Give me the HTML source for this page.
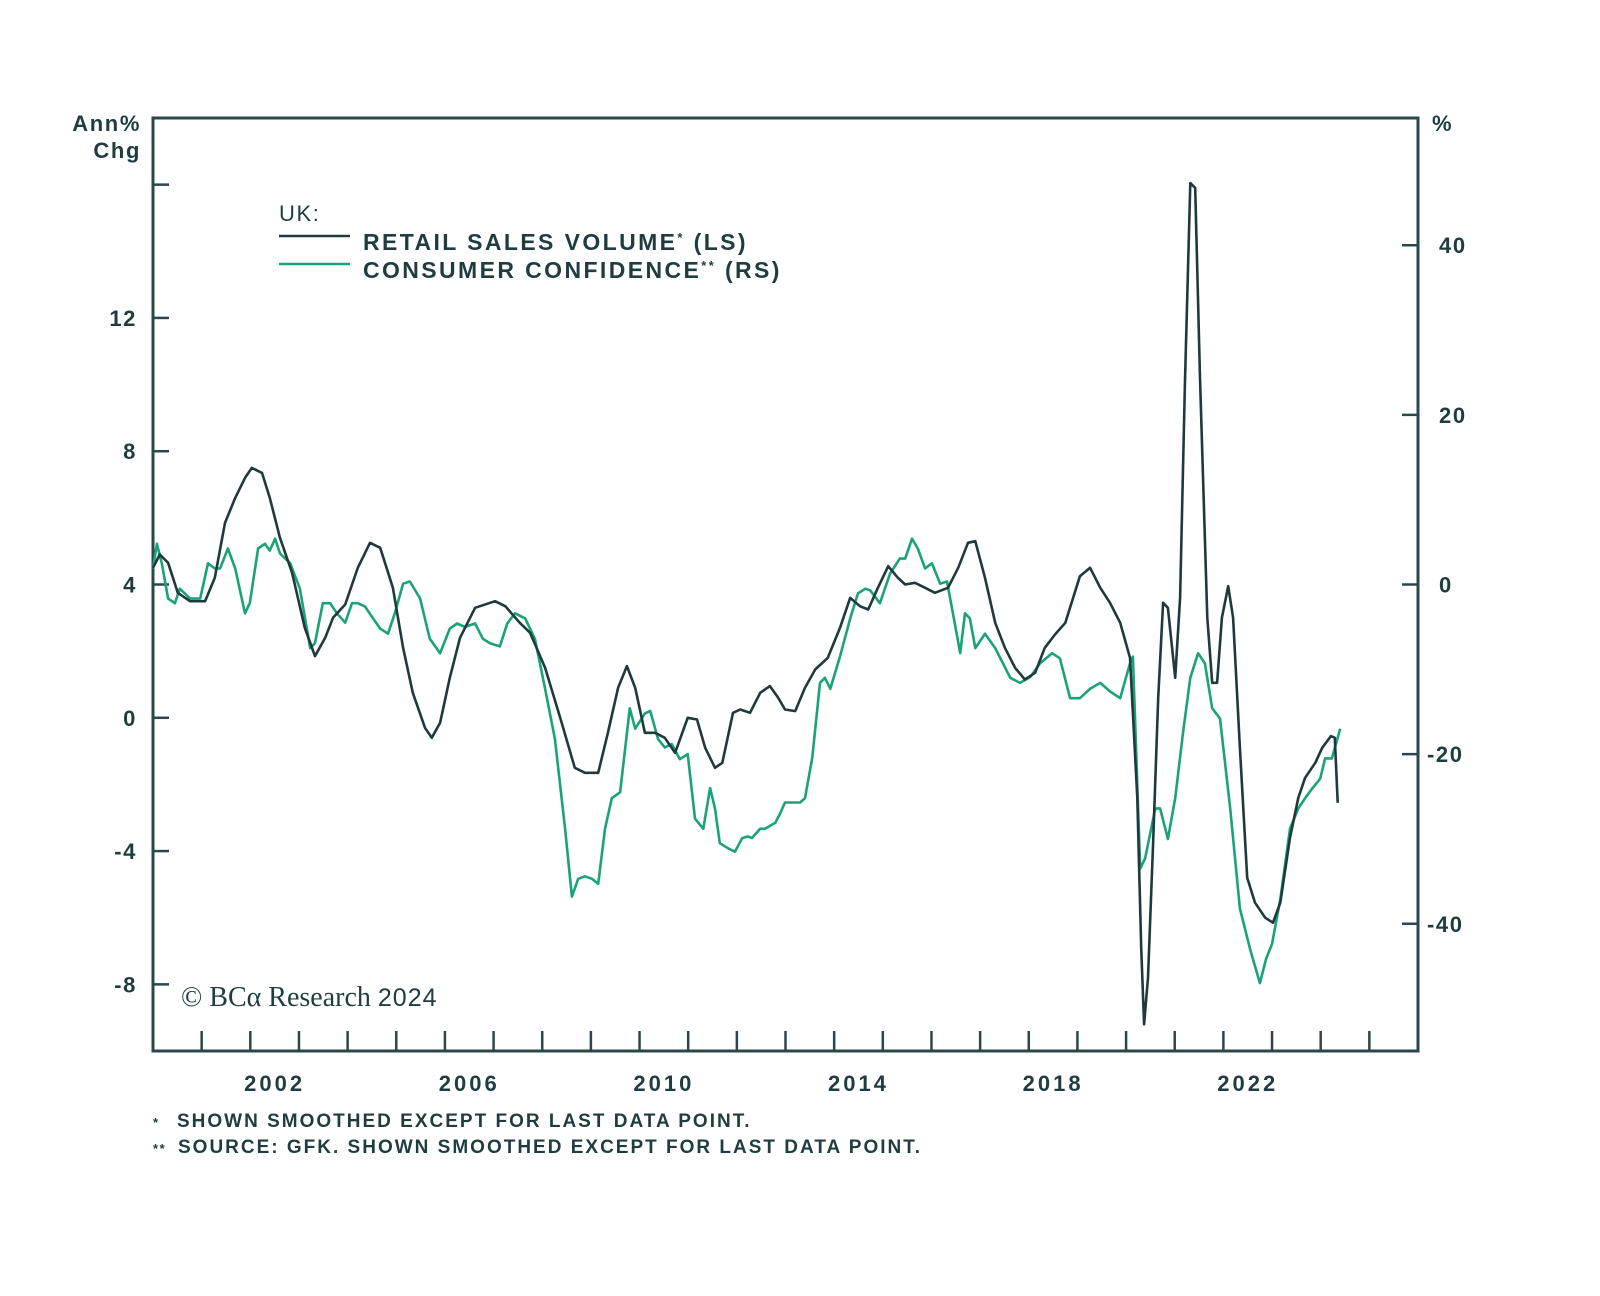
<!DOCTYPE html>
<html><head><meta charset="utf-8"><style>
html,body{margin:0;padding:0;background:#fff;}
svg{display:block;}
text{font-family:"Liberation Sans",sans-serif;font-weight:bold;fill:#1f3d40;letter-spacing:1.6px;}
</style></head><body>
<svg id="chart" width="1600" height="1296" viewBox="0 0 1600 1296" xmlns="http://www.w3.org/2000/svg">
<rect x="0" y="0" width="1600" height="1296" fill="#fff"/>
<g id="grid"></g>
<g id="series"></g>
<text x="141" y="131" font-size="22" text-anchor="end">Ann%</text>
<text x="141" y="158" font-size="22" text-anchor="end">Chg</text>
<text x="1432" y="131" font-size="22">%</text>
<g>
<text x="279" y="221" font-size="22" style="font-weight:normal">UK:</text>
<line x1="279" y1="236" x2="350" y2="236" stroke="#1e3a3d" stroke-width="2.5"/>
<text x="363" y="250" font-size="23" style="letter-spacing:2.4px">RETAIL SALES VOLUME<tspan font-size="13" dy="-8">*</tspan><tspan dy="8"> (LS)</tspan></text>
<line x1="279" y1="264" x2="350" y2="264" stroke="#1aa37a" stroke-width="2.5"/>
<text x="363" y="278" font-size="23" style="letter-spacing:2.4px">CONSUMER CONFIDENCE<tspan font-size="13" dy="-8">**</tspan><tspan dy="8"> (RS)</tspan></text>
</g>
<text x="181" y="1006" font-size="28" style="font-family:'Liberation Serif',serif;font-weight:normal;letter-spacing:0px">© BCα Research <tspan font-size="25" style="font-family:'Liberation Sans',sans-serif;letter-spacing:1px">2024</tspan></text>
<text x="153" y="1127" font-size="13">*</text>
<text x="177" y="1127" font-size="19" style="letter-spacing:2px">SHOWN SMOOTHED EXCEPT FOR LAST DATA POINT.</text>
<text x="153" y="1153" font-size="13">**</text>
<text x="178" y="1153" font-size="19" style="letter-spacing:2px">SOURCE: GFK. SHOWN SMOOTHED EXCEPT FOR LAST DATA POINT.</text>
</svg>
<script>
const retailYears=[0,0.14,0.31,0.51,0.76,1.07,1.27,1.48,1.69,1.89,2.03,2.24,2.40,2.61,2.86,3.12,3.33,3.54,3.70,3.95,4.21,4.46,4.67,4.93,5.14,5.34,5.59,5.73,5.90,6.10,6.31,6.62,7.03,7.24,7.54,7.75,8.06,8.37,8.67,8.88,9.15,9.35,9.56,9.74,9.91,10.11,10.32,10.52,10.73,10.99,11.18,11.35,11.55,11.70,11.92,12.07,12.27,12.48,12.68,12.85,12.99,13.20,13.40,13.61,13.87,14.12,14.33,14.53,14.70,14.90,15.11,15.31,15.46,15.66,15.87,16.07,16.34,16.55,16.75,16.90,17.10,17.31,17.51,17.72,17.92,18.13,18.33,18.54,18.75,19.05,19.26,19.47,19.67,19.88,20.08,20.23,20.31,20.37,20.45,20.56,20.66,20.76,20.86,21.01,21.11,21.21,21.32,21.42,21.52,21.67,21.77,21.87,21.97,22.10,22.20,22.34,22.49,22.65,22.86,23.02,23.17,23.37,23.54,23.68,23.89,24.03,24.21,24.29,24.35];
const retailValues=[4.5,4.9,4.65,3.75,3.5,3.5,4.2,5.85,6.6,7.2,7.5,7.35,6.6,5.4,4.35,2.7,1.85,2.4,3.0,3.4,4.5,5.25,5.1,3.9,2.1,0.75,-0.3,-0.6,-0.15,1.2,2.4,3.3,3.5,3.35,2.85,2.55,1.5,0.0,-1.5,-1.65,-1.65,-0.45,0.9,1.55,0.9,-0.45,-0.45,-0.6,-1.05,0.0,-0.05,-0.9,-1.5,-1.35,0.15,0.25,0.15,0.75,0.95,0.6,0.25,0.2,0.9,1.45,1.8,2.7,3.6,3.35,3.25,3.9,4.55,4.2,4.0,4.05,3.9,3.75,3.9,4.5,5.25,5.3,4.2,2.85,2.1,1.5,1.15,1.35,2.1,2.5,2.85,4.25,4.5,3.9,3.45,2.85,1.8,-2.4,-6.9,-9.2,-7.8,-3.6,0.6,3.45,3.3,1.2,3.6,10.0,16.05,15.9,10.2,3.0,1.05,1.05,3.0,3.95,3.0,-0.9,-4.8,-5.55,-6.0,-6.15,-5.55,-3.6,-2.4,-1.8,-1.35,-0.9,-0.55,-0.6,-2.55];
const confYears=[0,0.08,0.18,0.31,0.45,0.55,0.76,0.97,1.13,1.27,1.38,1.54,1.69,1.89,1.99,2.16,2.30,2.40,2.51,2.61,2.82,3.02,3.23,3.33,3.49,3.64,3.78,3.95,4.09,4.21,4.36,4.50,4.67,4.83,4.97,5.14,5.28,5.49,5.69,5.90,6.10,6.25,6.41,6.62,6.78,6.93,7.13,7.28,7.44,7.65,7.85,8.06,8.26,8.47,8.61,8.74,8.88,9.02,9.15,9.29,9.43,9.60,9.80,9.91,10.11,10.22,10.38,10.52,10.66,10.83,10.99,11.14,11.31,11.45,11.55,11.65,11.82,11.96,12.11,12.23,12.31,12.48,12.58,12.79,12.89,12.99,13.09,13.30,13.40,13.55,13.71,13.81,13.92,14.12,14.33,14.49,14.64,14.74,14.94,15.15,15.35,15.46,15.60,15.72,15.87,16.01,16.18,16.32,16.48,16.59,16.69,16.79,16.90,17.10,17.31,17.62,17.82,18.03,18.23,18.48,18.64,18.85,19.05,19.26,19.47,19.67,19.88,20.08,20.14,20.29,20.39,20.60,20.70,20.86,21.01,21.17,21.32,21.48,21.62,21.77,21.93,22.14,22.34,22.55,22.75,22.88,23.00,23.17,23.37,23.54,23.68,23.82,23.99,24.09,24.23,24.40];
const confValues=[1.9,4.8,2.5,-1.65,-2.2,-0.5,-1.65,-1.65,2.5,1.9,1.9,4.25,1.9,-3.4,-2.2,4.25,4.8,4.0,5.4,3.65,2.5,-0.5,-7.5,-6.9,-2.2,-2.2,-3.4,-4.5,-2.2,-2.2,-2.6,-3.8,-5.2,-5.8,-3.4,0.1,0.35,-1.65,-6.4,-8.1,-5.2,-4.6,-5.0,-4.6,-6.4,-6.95,-7.3,-4.6,-3.4,-4.0,-6.4,-12.3,-18.2,-28.8,-36.8,-34.7,-34.4,-34.7,-35.3,-28.8,-25.2,-24.5,-14.6,-17.0,-15.2,-14.9,-18.2,-19.2,-18.8,-20.6,-20.0,-27.6,-28.8,-24.0,-26.4,-30.5,-31.1,-31.5,-29.9,-29.7,-29.9,-28.8,-28.8,-28.1,-27.0,-25.7,-25.7,-25.7,-25.2,-20.4,-11.6,-11.0,-12.3,-8.5,-4.0,-1.05,-0.5,-0.7,-2.2,1.3,3.05,3.05,5.4,4.25,1.9,2.5,0.1,0.35,-4.6,-8.1,-3.4,-4.0,-7.5,-5.8,-7.5,-11.0,-11.6,-10.9,-9.3,-8.1,-8.7,-13.4,-13.4,-12.3,-11.6,-12.6,-13.4,-9.3,-8.5,-33.5,-32.3,-26.4,-26.4,-30.0,-25.2,-17.5,-11.0,-8.1,-9.3,-14.6,-15.8,-26.4,-38.2,-43.0,-47.0,-44.1,-42.4,-37.1,-28.8,-26.4,-25.2,-24.1,-22.9,-20.5,-20.5,-17.0];
const leftTicks=[-8,-4,0,4,8,12];
const rightTicks=[-40,-20,0,20,40];
const yearLabels=[2002,2006,2010,2014,2018,2022];

const L=153,R=1418,T=118,B=1051;
const xS=y=>L+(y-2000)/26*(R-L);
const yL=v=>T+(18-v)/28*(B-T);
const yR=v=>T+(55-v)/110*(B-T);
const NS='http://www.w3.org/2000/svg';
const grid=document.getElementById('grid'), ser=document.getElementById('series');
function mk(tag,parent,attrs){const e=document.createElementNS(NS,tag);for(const k in attrs)e.setAttribute(k,attrs[k]);parent.appendChild(e);return e;}
const AX='#2a474b';
let e;
e=mk('rect',grid,{x:L,y:T,width:R-L,height:B-T,fill:'none',stroke:AX,'stroke-width':3});


[16,...leftTicks].forEach(v=>{
  e=mk('line',grid,{x1:L,x2:L+16,y1:yL(v),y2:yL(v),stroke:AX,'stroke-width':2.5});
  
  
});
leftTicks.forEach(v=>{
  e=mk('text',grid,{x:137,y:yL(v)+8,'font-size':22,'text-anchor':'end'});e.textContent=v;
  
  
});
rightTicks.forEach(v=>{
  e=mk('line',grid,{x1:R-16,x2:R,y1:yR(v),y2:yR(v),stroke:AX,'stroke-width':2.5});
  
  
  e=mk('text',grid,{x:v<0?1427:1439,y:yR(v)+8,'font-size':22});e.textContent=v;
  
  
});
for(let yr=2001;yr<=2025;yr++){
  e=mk('line',grid,{x1:xS(yr),x2:xS(yr),y1:B-20,y2:B,stroke:AX,'stroke-width':2.5});
  
  
}
yearLabels.forEach(yr=>{
  e=mk('text',grid,{x:xS(yr+0.5),y:1091,'font-size':22,'text-anchor':'middle',style:'letter-spacing:3px'});e.textContent=yr;
  
  
});
function path(xs,vs,sc){return xs.map((x,i)=>(i?'L':'M')+xS(2000+x).toFixed(1)+','+sc(vs[i]).toFixed(1)).join('');}
e=mk('path',ser,{d:path(confYears,confValues,yR),fill:'none',stroke:'#1aa37a','stroke-width':2.6,'stroke-linejoin':'round'});


e=mk('path',ser,{d:path(retailYears,retailValues,yL),fill:'none',stroke:'#1e3a3d','stroke-width':2.6,'stroke-linejoin':'round'});


</script>
</body></html>
